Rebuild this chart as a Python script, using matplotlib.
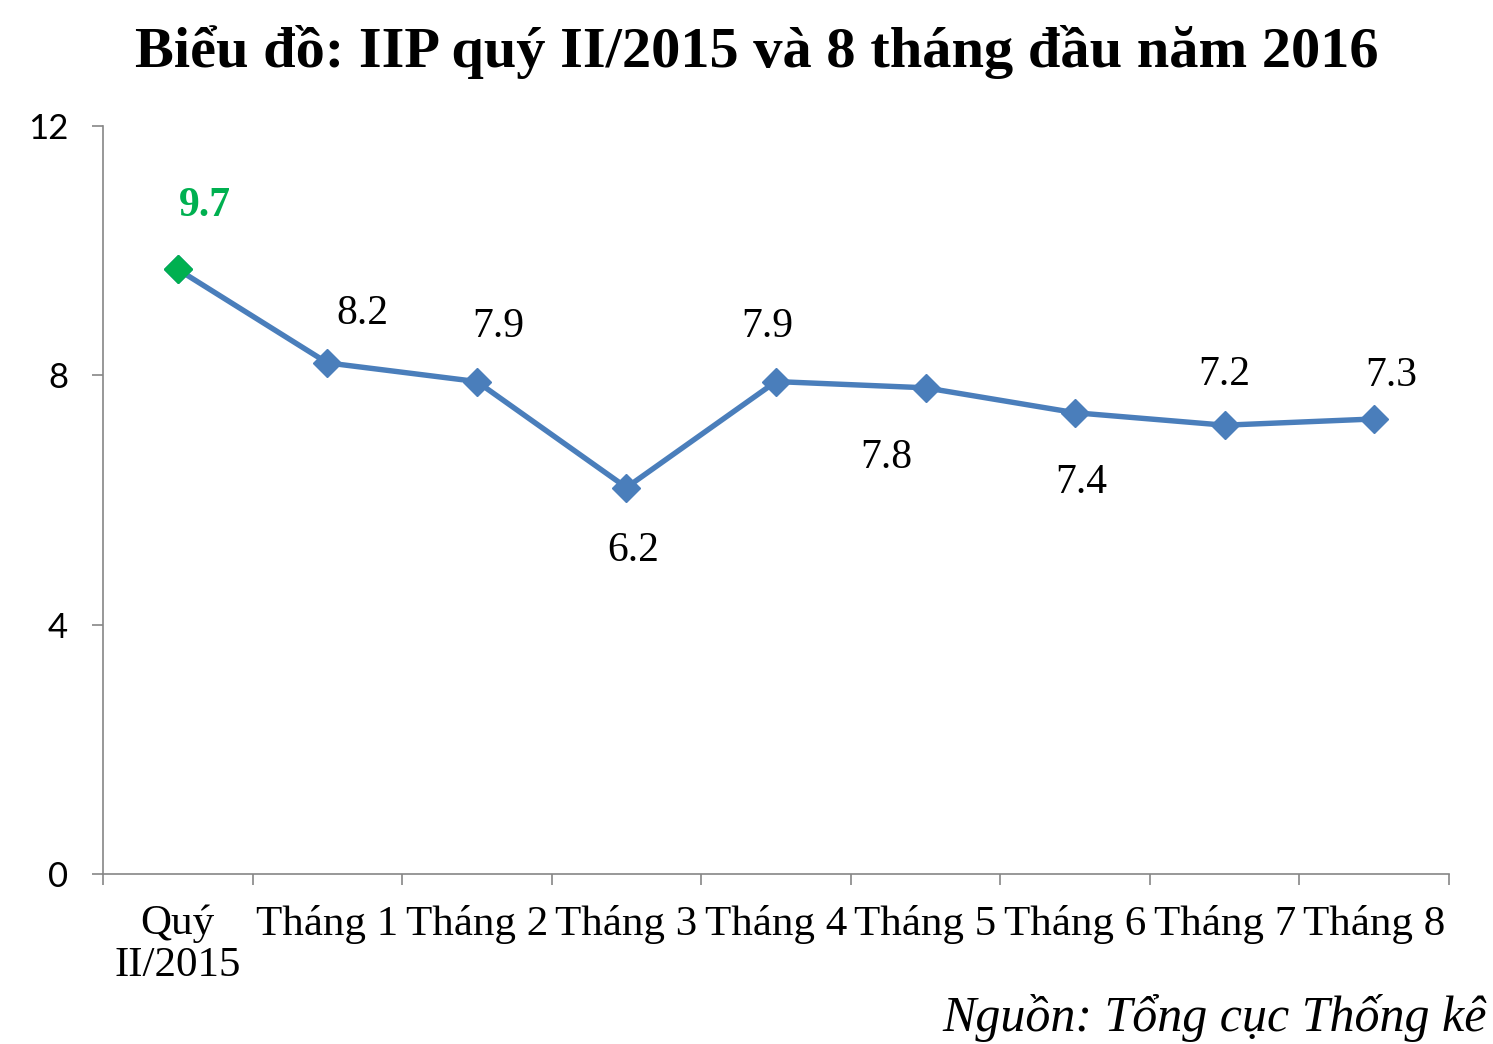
import matplotlib
matplotlib.use("Agg")
import matplotlib.pyplot as plt

categories = ["Quý\nII/2015", "Tháng 1", "Tháng 2", "Tháng 3", "Tháng 4",
              "Tháng 5", "Tháng 6", "Tháng 7", "Tháng 8"]
values = [9.7, 8.2, 7.9, 6.2, 7.9, 7.8, 7.4, 7.2, 7.3]
value_labels = ["9.7", "8.2", "7.9", "6.2", "7.9", "7.8", "7.4", "7.2", "7.3"]
y_ticks = [0, 4, 8, 12]
title = "Biểu đồ: IIP quý II/2015 và 8 tháng đầu năm 2016"
source = "Nguồn: Tổng cục Thống kê"

# label offsets in pixels (dx, dy)
label_offsets = [(27, 63), (35, 49), (21, 55), (7, -63), (-9, 55),
                 (-39, -70), (6, -70), (0, 50), (17, 43)]

W, H, DPI = 1493, 1044, 100
fig = plt.figure(figsize=(W / DPI, H / DPI), dpi=DPI)
ax = fig.add_axes([103 / W, 1 - 874 / H, (1449 - 103) / W, (874 - 126) / H])

line_color = "#4A7EBB"
green = "#00B050"
x = list(range(len(values)))
ax.plot(x, values, color=line_color, lw=3.9, marker="D", ms=14.5,
        mfc=line_color, mec=line_color, zorder=3)
ax.plot([x[0]], [values[0]], ls="none", marker="D", ms=14.5, mfc=green,
        mec=green, zorder=4)

serif = ["Liberation Serif", "DejaVu Serif"]
for i, (xi, v, lab) in enumerate(zip(x, values, value_labels)):
    dx, dy = label_offsets[i]
    if i == 0:
        ax.annotate(lab, (xi, v), xytext=(dx, dy), textcoords="offset pixels",
                    ha="center", va="center", fontsize=30, fontweight="bold",
                    color=green, family=serif)
    else:
        ax.annotate(lab, (xi, v), xytext=(dx, dy), textcoords="offset pixels",
                    ha="center", va="center", fontsize=30, color="black",
                    family=serif)

ax.set_xlim(-0.5, len(values) - 0.5)
ax.set_ylim(0, 12)
ax.set_yticks(y_ticks)
ax.set_yticklabels([str(t) for t in y_ticks], family=["Lato", "DejaVu Sans"],
                   fontsize=25)
ax.tick_params(axis="y", length=8, width=1.2, color="#868686", pad=17)

# x ticks at category boundaries, labels at centres
ax.set_xticks([i - 0.5 for i in range(len(values) + 1)])
ax.set_xticklabels([])
ax.set_xticks(x, minor=True)
ax.set_xticklabels(categories, minor=True, family=serif, fontsize=31,
                   linespacing=1.12)
ax.tick_params(axis="x", which="major", length=8, width=1.2, color="#868686")
ax.tick_params(axis="x", which="minor", length=0, pad=22)

for s in ["top", "right"]:
    ax.spines[s].set_visible(False)
for s in ["left", "bottom"]:
    ax.spines[s].set_color("#868686")
    ax.spines[s].set_linewidth(1.2)

fig.text(757 / W, 1 - 52 / H, title, ha="center", va="center",
         fontsize=42, fontweight="bold", family=serif)
fig.text(1487 / W, 1 - 1018 / H, source, ha="right", va="center",
         fontsize=36, style="italic", family=serif)

fig.savefig("out.png", dpi=DPI)
